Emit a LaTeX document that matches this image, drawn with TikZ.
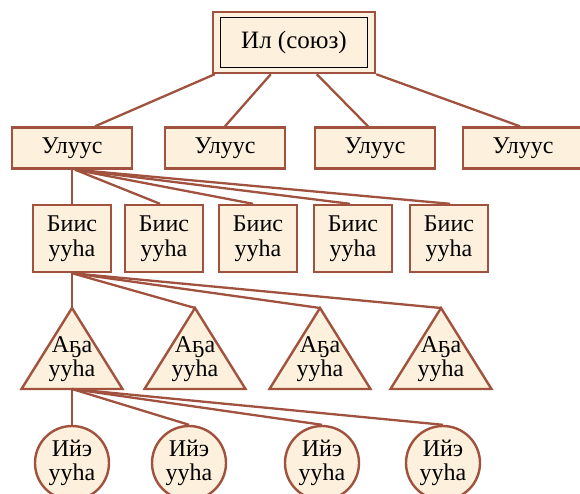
\documentclass[tikz,border=0pt]{standalone}
\usepackage{fontspec}
\setmainfont{Liberation Serif}
\usetikzlibrary{calc}
\definecolor{edgec}{HTML}{A0523E}
\definecolor{fillc}{HTML}{FDF0DC}
\begin{document}
\begin{tikzpicture}[x=1pt,y=1pt,
  lbl/.style={font=\fontsize{24}{24.5}\selectfont, align=center, inner sep=0pt},
  boxn/.style={lbl, draw=edgec, fill=fillc, line width=2.4pt},
  link/.style={draw=edgec, line width=2.3pt},
  shp/.style={draw=edgec, fill=fillc, line width=2.4pt, line join=miter}]
\useasboundingbox (0,0) rectangle (580,493);
% top box
\node[boxn, minimum width=162, minimum height=61] (il) at (294,450.5) {};
\draw[black, line width=0.8pt] ($(il.south west)+(9,7)$) rectangle ($(il.north east)-(9,7)$);
\node[lbl, font=\fontsize{25}{26}\selectfont] at (il.center) {Ил (союз)};
% ulus
\foreach \i/\x in {1/72,2/225,3/375,4/523}
  \node[boxn, minimum width=120, minimum height=41] (u\i) at (\x,345) {Улуус};
% biis
\foreach \i/\x in {1/72,2/164,3/258,4/353,5/449}
  \node[boxn, minimum width=78, minimum height=67] (b\i) at (\x,254.5) {Биис\\ууһа};
% connectors top -> ulus
\draw[link] ($(il.south west)+(3,0)$) -- ($(u1.north)+(23,0)$);
\draw[link] ($(il.south west)+(59,0)$) -- (u2.north);
\draw[link] ($(il.south west)+(105,0)$) -- ($(u3.north)+(-7,0)$);
\draw[link] (il.south east) -- ($(u4.north)+(-3,0)$);
% ulus1 -> biis
\coordinate (uo) at ($(u1.south)+(3,0)$);
\draw[link] (u1.south) -- (b1.north);
\draw[link] (uo) -- ($(b2.north)+(-4,0)$);
\draw[link] (uo) -- ($(b3.north)+(-5,0)$);
\draw[link] (uo) -- ($(b4.north)+(-3,0)$);
\draw[link] (uo) -- ($(b5.north)+(1,0)$);
% triangles
\foreach \i/\x in {1/72,2/195,3/320,4/441}{
  \coordinate (a\i) at (\x,185);
  \draw[shp] (a\i) -- (\x+50.5,104) -- (\x-50.5,104) -- cycle;
  \node[lbl] (at\i) at (\x,134) {Аҕа\\ууһа};
}
% biis1 -> triangles
\draw[link] (b1.south) -- (a1);
\draw[link] (b1.south) -- (a2);
\draw[link] (b1.south) -- (a3);
\draw[link] (b1.south) -- (a4);
% circles
\foreach \i/\x in {1/72,2/189,3/322,4/443}
  \node[boxn, circle, minimum size=74] (c\i) at (\x,30) {Ийэ\\ууһа};
\coordinate (tb) at (72,104);
\draw[link] (tb) -- (c1.north);
\draw[link] (tb) -- (c2.north);
\draw[link] (tb) -- (c3.north);
\draw[link] (tb) -- (c4.north);
\end{tikzpicture}
\end{document}
